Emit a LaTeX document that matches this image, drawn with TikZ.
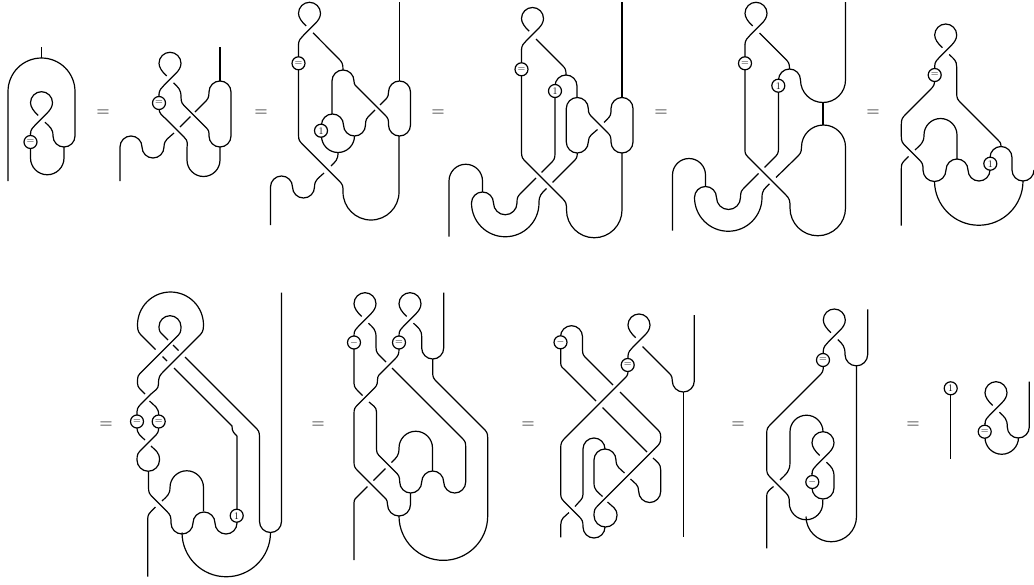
\documentclass[tikz,border=0pt]{standalone}
\tikzset{
 eqn/.style={inner sep=0pt,font=\fontsize{18}{18}\selectfont},
 bead/.style={circle,draw,fill=white,inner sep=0pt,minimum size=13pt,font=\fontsize{10}{10}\selectfont}
}
\def\vd(#1,#2)(#3,#4){ .. controls (#1,{#2+.55*(#4-#2)}) and ({#3-.35*abs(#4-#2)*sign(#3-#1)},{#4-.35*(#4-#2)}) .. (#3,#4)}
\def\dv(#1,#2)(#3,#4){ .. controls ({#1+.35*abs(#4-#2)*sign(#3-#1)},{#2+.35*(#4-#2)}) and (#3,{#4-.55*(#4-#2)}) .. (#3,#4)}
\def\aur#1{arc[start angle=180,end angle=360,radius=#1]}
\def\aul#1{arc[start angle=0,end angle=-180,radius=#1]}
\def\adr#1{arc[start angle=180,end angle=0,radius=#1]}
\def\adl#1{arc[start angle=0,end angle=180,radius=#1]}
\newcommand\kink[2]{\draw[shift={(#1,#2)}] (-11,15) .. controls (-11,11) and (-8.5,8.5) .. (-6,6) -- (6,-6) .. controls (8.5,-8.5) and (11,-12) .. (11,-16) arc[start angle=0,end angle=-180,radius=11] .. controls (-11,-12) and (-8,-7.5) .. (-3.3,-3.3);}
\begin{document}
\begin{tikzpicture}[x=1pt,y=-1pt,line width=1.2pt]
\useasboundingbox (0,0) rectangle (1034,584);
% D1
\kink{41.5}{118.7}
\draw (41.7,47) -- (41.7,58);
\draw (8,181) -- (8,91.5) \aur{33.5} -- (75,136) \adl{11} \vd(53,136)(45,122.2);
\draw (30.5,133) -- (30.5,158) \adr{16.75} -- (64,147);
\node[bead] (a1) at (30.5,142) {=};
% D2
\kink{170}{79.3}
\draw (159,94) -- (159,108) \vd(159,108)(166,119) -- (184,137) \dv(184,137)(187,150) -- (187,160) \adr{16.5} -- (220,147);
\draw (173.5,82.8) \dv(173.5,82.8)(181,97) \vd(181,97)(186,107.5) -- (206,127.5) \dv(206,127.5)(209,136) \adr{11} -- (231,92) \aul{11} \vd(209,92)(204,103) -- (195,112);
\draw (190.5,116.5) -- (180,127);
\draw (174,133) \dv(174,133)(164,147) \adl{11} \aul{11} -- (120,181);
\draw (220,47) -- (220,81);
\node[bead] (b1) at (159,103) {=};
% D3
\kink{309.5}{29.3}
\draw (298.5,44) -- (298.5,135) \vd(298.5,135)(303,144.7) -- (339,180.7) \dv(339,180.7)(343,192) \adr{28} -- (399,136);
\draw (313,32.8) -- (338,58) \dv(338,58)(343,70);
\draw (332,114) -- (332,81) \aur{11} \vd(354,81)(358,88) -- (385,115) \dv(385,115)(388.5,125) \adr{11} -- (410.5,92) \aul{11} \vd(388.5,92)(383,102) -- (380,105);
\draw (375,110) -- (370,115) \dv(370,115)(365.5,125) \adl{11} \aul{11} -- (321.5,136) \adr{16.5} -- (354.5,136);
\draw (338,152.5) \vd(338,152.5)(331,166);
\draw (324,173) \dv(324,173)(314.5,187) \adl{11} \aul{11} -- (270.5,225);
\draw (399.5,2) -- (399.5,81);
\node[bead] (c1) at (298.5,63.3) {=};
\node[bead] (c2) at (321,130.7) {1};
% D4
\kink{532.5}{34.5}
\draw (521.5,49) -- (521.5,152) \vd(521.5,152)(526,162) -- (562,198) \dv(562,198)(566.5,210) \adr{27.75} -- (622,153);
\draw (622,2) -- (622,97.5);
\draw (536,39) -- (562,65) \dv(562,65)(566,75);
\draw (597.5,129.5) \dv(597.5,129.5)(588.3,142) \adl{11} -- (566.3,108.5) \aur{11} \vd(588.3,108.5)(593,118) -- (607,132) \dv(607,132)(611,142) \adr{11} -- (633,108.5) \aul{11} \vd(611,108.5)(607,119.5) -- (604,122.5);
\draw (541.5,172.5) -- (550.5,163.5) \dv(550.5,163.5)(555,153) -- (555,86) \aur{11} -- (577,97.5);
\draw (536,178) -- (521,193) \dv(521,193)(517,203) \adl{11.75} \aul{11} \adr{33.75} \vd(539,203)(546.5,188.5);
\draw (552.5,182.5) -- (573,162) \dv(573,162)(577.3,153);
\draw (482.5,192) -- (482.5,181) \aul{16.75} -- (449,236.7);
\node[bead] (d1) at (521.5,69.3) {=};
\node[bead] (d2) at (555,91) {1};
% D5
\kink{756}{29.3}
\draw (745,44) -- (745,147) \vd(745,147)(748,157) -- (785,194) \dv(785,194)(790,208) \adr{27.75} -- (845.5,147) \aul{22} \vd(801.5,147)(796,158) -- (776,177.5);
\draw (769.5,183.8) \dv(769.5,183.8)(762,197.5) \adl{33.75} \aur{11} \adr{12} \vd(740.5,197.5)(745,187) -- (758.5,173.5);
\draw (764.5,167.5) -- (774,158) \dv(774,158)(778.5,148) -- (778.5,80) \aur{11} \adr{22.5} -- (845.5,2);
\draw (823,102.5) -- (823,125);
\draw (759.5,33) -- (785,58.5) \dv(785,58.5)(789.5,69);
\draw (705.5,186.5) -- (705.5,175) \aul{16.5} -- (672.5,230.7);
\node[bead] (e1) at (745,63.3) {=};
\node[bead] (e2) at (778.3,85.7) {1};
% D6
\kink{945.7}{51}
\draw (934.7,66) -- (934.7,78) \vd(934.7,78)(930,90) -- (906,114) \dv(906,114)(901.3,125) -- (901.3,136) \vd(901.3,136)(906,146.5) -- (919,159.5) \dv(919,159.5)(923,170) \adr{11.5} \aur{11} \adr{11} -- (990,157.5) \aur{11} -- (1012,170) \adr{11};
\draw (949.2,54.5) \dv(949.2,54.5)(956.7,67) -- (956.7,93) \vd(956.7,93)(961,103) -- (997,139) \dv(997,139)(1001,146.5);
\draw (934.5,181) \adr{44.25};
\draw (901.3,225.7) -- (901.3,170) \vd(901.3,170)(905,160) -- (908.5,156.5);
\draw (915,150) \dv(915,150)(924,135) \aur{16.5} -- (957,159);
\node[bead] (f1) at (934.7,75) {=};
\node[bead] (f2) at (990.3,163.7) {1};
% D7
\draw (174,368) -- (232,426) \vd(232,426)(237,436);
\draw (237,436) -- (237,523) \adl{11} \aul{11} \adl{11} \vd(171,523)(166.5,511) -- (153,497.5) \dv(153,497.5)(148.5,487) -- (148.5,471.5);
\draw (167,361) -- (162.5,356.5);
\draw (155.5,349.5) -- (143,337) \dv(143,337)(137.5,325) \aur{33} \vd(203.5,325)(198,337) -- (164,371) \dv(164,371)(158.5,384) \vd(158.5,384)(151,394) -- (141,404) \dv(141,404)(137,415) -- (137,427) \vd(137,427)(145,440);
\draw (168,340) -- (163,335) \dv(163,335)(159,326.7) \aur{11} \vd(181,326.7)(176.5,337) -- (141.5,372) \dv(141.5,372)(137.5,381) \vd(137.5,381)(141,390) -- (145,394);
\draw (173,345) -- (178.5,350.5);
\draw (185,357) -- (255,427) \dv(255,427)(259.5,437) -- (259.5,521.5) \adr{11} -- (281.5,292.7);
\draw (149.5,401) \dv(149.5,401)(158.7,415) -- (158.7,427) \vd(158.7,427)(154,437) -- (141.5,449.5) \dv(141.5,449.5)(137,460) \adr{11.25} \vd(159.5,460)(151,446);
\draw (182,532.5) \adr{44.25};
\draw (147.7,576.7) -- (147.7,522) \vd(147.7,522)(151.5,511) -- (155.5,507);
\draw (162,501) \dv(162,501)(170,487.5) \aur{16.75} -- (203.5,511);
\node[bead] (g1) at (137,421.5) {=};
\node[bead] (g2) at (158.7,421.5) {=};
\node[bead] (g3) at (236.7,515.7) {1};
% D8
\kink{365}{319.7}
\kink{410}{319.7}
\draw (354,335) -- (354,380) \vd(354,380)(358,391) -- (362.5,395.5);
\draw (368.5,323.2) \dv(368.5,323.2)(376,337) -- (376,347) \vd(376,347)(381,357) -- (386,362);
\draw (392,368) -- (462,438) \dv(462,438)(465.7,448) -- (465.7,482) \adl{11} \aul{11} \adl{11} \vd(399.7,482)(395,471.5) -- (380.5,457) \dv(380.5,457)(376.5,448) -- (376.5,412) \vd(376.5,412)(369,402);
\draw (399,335) -- (399,348) \vd(399,348)(394.5,359.5) -- (382,372) \dv(382,372)(377.5,380) \vd(377.5,380)(372.5,390) -- (358,404.5) \dv(358,404.5)(354,414) -- (354,461) \vd(354,461)(358,471) -- (382,495) \dv(382,495)(387.5,504.5) \adr{11.5} -- (410.5,493);
\draw (354,560) -- (354,503) \vd(354,503)(358,496) -- (367.5,486.5);
\draw (373.5,480.5) -- (385.5,468.5);
\draw (391.5,462.5) \dv(391.5,462.5)(399,448) \aur{16.75} -- (432.5,471);
\draw (413.5,323.2) \dv(413.5,323.2)(421.7,337) -- (421.7,348) \adr{11} -- (443.7,292.7);
\draw (432.7,359) -- (432.7,372) \vd(432.7,372)(437,382) -- (483,428) \dv(483,428)(487.7,438) -- (487.7,516) \adl{44.35};
\node[bead] (h1) at (354,342.5) {$-$};
\node[bead] (h2) at (399,342.5) {=};
% D9
\kink{639}{341}
\draw (628,356) -- (628,371) \vd(628,371)(624,379) -- (565.5,437.5) \dv(565.5,437.5)(560.7,449) -- (560.7,491.5) \vd(560.7,491.5)(564.5,502) -- (578.5,516) \dv(578.5,516)(583,527) \adr{11};
\draw (560.5,345) -- (560.5,336.7) \aur{11} -- (582.5,350) \vd(582.5,350)(587,359) -- (613,385);
\draw (620,392) -- (656,428) \dv(656,428)(660.7,437) \vd(660.7,437)(656.5,447) -- (598.5,505) \dv(598.5,505)(594,515.5) \adr{11.5} \vd(617,515.5)(607.5,502);
\draw (560.7,342) -- (560.7,363) \vd(560.7,363)(565.5,370.5) -- (596,401);
\draw (602.5,407.5) -- (647,452);
\draw (653,458) \dv(653,458)(660.7,470) -- (660.7,491.5) \adl{11} \vd(638.7,491.5)(630.5,479);
\draw (624.5,473) \dv(624.5,473)(616,460) \aul{11} -- (594,483) \vd(594,483)(602.5,496.5);
\draw (605,449) \aul{11} -- (583,491.5) \vd(583,491.5)(579,502) -- (575,506.5);
\draw (569,512.5) \dv(569,512.5)(560.7,525) -- (560.7,537.3);
\draw (642.5,346.5) -- (667,371) \dv(667,371)(672.3,381) \adr{11} -- (694.3,315);
\draw (683.3,392) -- (683.3,537.3);
\node[bead] (i1) at (560.5,342.3) {$-$};
\node[bead] (i2) at (627.7,365) {=};
% D10
\kink{834.3}{336}
\draw (823.3,351) -- (823.3,366) \vd(823.3,366)(819,376) -- (771,424) \dv(771,424)(766.7,434) -- (766.7,468) \vd(766.7,468)(771,478) -- (785,492) \dv(785,492)(789.3,503) \adr{16.75} -- (822.8,499.5);
\draw (837.8,339.5) \dv(837.8,339.5)(845,354.5) \adr{11.35} -- (867.7,309.3);
\draw (856.5,365.8) -- (856.5,516.5) \adl{25.25};
\draw (766.7,548.3) -- (766.7,497) \vd(766.7,497)(770.5,489) -- (773.5,486.5);
\draw (780,480) \dv(780,480)(790,462) -- (790,431.7) \aur{16.5};
\kink{823}{458.7}
\draw (812,473) -- (812,488) \adr{11} -- (834,477) \vd(834,477)(826.5,462.2);
\node[bead] (j1) at (823,360) {=};
\node[bead] (j2) at (812.3,482) {$-$};
% D11
\draw (950.7,388.3) -- (950.7,459.3);
\node[bead] (k1) at (950.7,388.3) {1};
\kink{996}{408.7}
\draw (985,423) -- (985,437.5) \adr{16.75};
\draw (999.5,412.2) \dv(999.5,412.2)(1007.3,427) \adr{11} -- (1029.3,381.7);
\node[bead] (k2) at (984.7,431.7) {=};
% equals
\node[eqn] (q1) at (103,113.5) {=};
\node[eqn] (q2) at (261,113.5) {=};
\node[eqn] (q3) at (438,113.5) {=};
\node[eqn] (q4) at (661,113.5) {=};
\node[eqn] (q5) at (873,113.5) {=};
\node[eqn] (q6) at (106,425) {=};
\node[eqn] (q7) at (318,425) {=};
\node[eqn] (q8) at (528,425) {=};
\node[eqn] (q9) at (738,425) {=};
\node[eqn] (q10) at (913,425) {=};
\end{tikzpicture}
\end{document}
